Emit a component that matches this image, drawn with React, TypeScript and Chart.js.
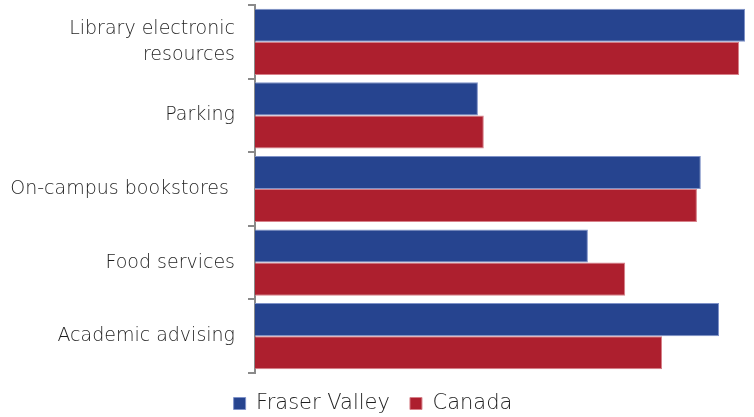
import React, { useEffect, useRef } from "react";
import { Chart, registerables } from "chart.js";

Chart.register(...registerables);

const categories: (string | string[])[] = [
  ["Library electronic", "resources"],
  "Parking",
  "On-campus bookstores ",
  "Food services",
  "Academic advising",
];
const fraserValley = [99.8, 45.4, 90.8, 67.8, 94.5];
const canada = [98.6, 46.6, 90.0, 75.4, 82.9];
const seriesNames = ["Fraser Valley", "Canada"];

const FONT = "'DejaVu Sans', sans-serif";

export default function App() {
  const ref = useRef<HTMLCanvasElement | null>(null);
  useEffect(() => {
    if (!ref.current) return;
    const chart = new Chart(ref.current, {
      type: "bar",
      data: {
        labels: categories,
        datasets: [
          {
            label: seriesNames[0],
            data: fraserValley,
            backgroundColor: "#26448f",
            borderColor: "#7f92c8",
            borderWidth: 1,
            categoryPercentage: 0.9,
            barPercentage: 1.0,
          },
          {
            label: seriesNames[1],
            data: canada,
            backgroundColor: "#ad1f2e",
            borderColor: "#d78089",
            borderWidth: 1,
            categoryPercentage: 0.9,
            barPercentage: 1.0,
          },
        ],
      },
      options: {
        indexAxis: "y",
        responsive: false,
        animation: false,
        layout: { padding: { top: 5, right: 8, bottom: -7, left: 0 } },
        scales: {
          x: { display: false, min: 0, max: 100 },
          y: {
            afterFit: (s: any) => {
              s.width = 255;
              s.paddingTop = 0;
              s.paddingBottom = 0;
            },
            grid: {
              offset: true,
              drawOnChartArea: false,
              drawTicks: true,
              tickLength: 7,
              color: "#8a8a8a",
              lineWidth: 2,
            },
            border: { display: true, color: "#8a8a8a", width: 2 },
            ticks: {
              color: "#1e1e1e",
              padding: 13,
              font: { family: FONT, size: 19, weight: "300" as any, lineHeight: 1.35 },
            },
          },
        },
        plugins: {
          legend: {
            position: "bottom",
            labels: {
              boxWidth: 12,
              boxHeight: 12,
              color: "#1e1e1e",
              padding: 20,
              font: { family: FONT, size: 21, weight: "300" as any, lineHeight: 1.2 },
            },
          },
          tooltip: { enabled: false },
        },
      },
    });
    return () => chart.destroy();
  }, []);
  return (
    <div style={{ position: "absolute", left: 0, top: 0, width: 754, height: 417, background: "#fff" }}>
      <canvas ref={ref} width={754} height={417} />
    </div>
  );
}
